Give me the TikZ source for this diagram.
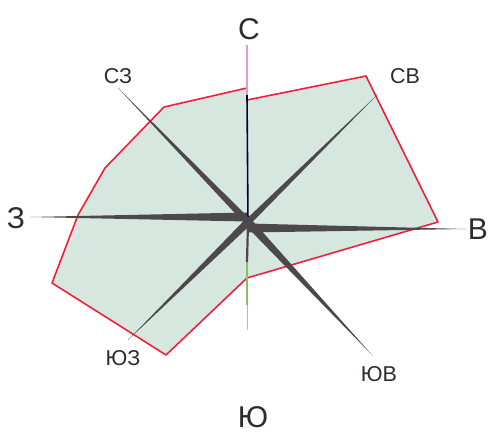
\documentclass[tikz,border=0pt]{standalone}
\usepackage{fontspec}
\setmainfont{Liberation Sans}
\usetikzlibrary{calc}
\definecolor{areafill}{HTML}{D6E7DF}
\definecolor{areaedge}{HTML}{F0203C}
\definecolor{raycol}{HTML}{4D484C}
\definecolor{northtop}{HTML}{E49AD8}
\definecolor{southlow}{HTML}{86BE6E}
\definecolor{labelcol}{HTML}{2E2A2E}
\begin{document}
\begin{tikzpicture}[x=1pt,y=-1pt,
  area/.style={fill=areafill,draw=areaedge,line width=1.6pt,line join=round},
  ray/.style={fill=raycol,draw=none},
  thinray/.style={line width=1.6pt},
  biglab/.style={text=labelcol,font=\fontsize{30}{30}\selectfont,inner sep=0pt},
  smalllab/.style={text=labelcol,font=\fontsize{21.5}{21.5}\selectfont,inner sep=0pt}]
\useasboundingbox (0,0) rectangle (491,445);
% area
\draw[area] (247,88) -- (164,107) -- (105,168) -- (78,215) -- (52,283) -- (166,355)
  -- (247,278) -- (438,222) -- (366,76) -- (247,100) -- cycle;
% centre and ray ends
\coordinate (O) at (248,222);
\coordinate (Ow) at (247,217);
\coordinate (Oe) at (248,228);
\coordinate (W) at (30,217);
\coordinate (E) at (466,229);
\coordinate (NW) at (118,88);
\coordinate (NE) at (378,94);
\coordinate (SW) at (128,340);
\coordinate (SE) at (373,356);
\coordinate (Ntop) at (247,45);
\coordinate (Nmid) at (247,95);
\coordinate (Sa) at (247,262);
\coordinate (Sb) at (247,305);
\coordinate (Sc) at (247,330);
% thin north / south
\draw[thinray,northtop] (Ntop) -- (Nmid);
\draw[thinray,draw=black!80!blue] (Nmid) -- (O);
\draw[line width=2.2pt,raycol] (O) -- (Sa);
\draw[line width=1.2pt,southlow] (Sa) -- (Sb);
\draw[line width=1pt,violet!35] (Sb) -- (Sc);
% tapered rays
\fill[ray] ($(Ow)!4.5pt!90:(W)$) -- (W) -- ($(Ow)!4.5pt!-90:(W)$) -- cycle;
\fill[ray] ($(Oe)!4.5pt!90:(E)$) -- (E) -- ($(Oe)!4.5pt!-90:(E)$) -- cycle;
\fill[ray] ($(O)!3.5pt!90:(NW)$) -- (NW) -- ($(O)!3.5pt!-90:(NW)$) -- cycle;
\fill[ray] ($(O)!3.2pt!90:(NE)$) -- (NE) -- ($(O)!3.2pt!-90:(NE)$) -- cycle;
\fill[ray] ($(O)!3.8pt!90:(SW)$) -- (SW) -- ($(O)!3.8pt!-90:(SW)$) -- cycle;
\fill[ray] ($(O)!4.2pt!90:(SE)$) -- (SE) -- ($(O)!4.2pt!-90:(SE)$) -- cycle;
% labels
\node[biglab] (lN) at (249,29) {С};
\node[biglab] (lS) at (253,417) {Ю};
\node[biglab] (lW) at (16,218) {З};
\node[biglab] (lE) at (478,229) {В};
\node[smalllab] (lNW) at (118,76) {СЗ};
\node[smalllab] (lNE) at (405,76) {СВ};
\node[smalllab] (lSW) at (123,358) {ЮЗ};
\node[smalllab] (lSE) at (379,374) {ЮВ};
\end{tikzpicture}
\end{document}
